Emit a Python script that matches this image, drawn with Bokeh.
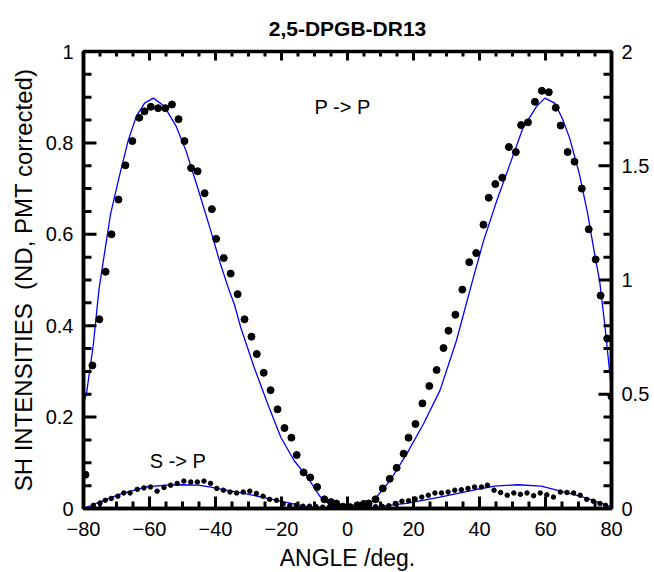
import math
from bokeh.plotting import figure
from bokeh.models import Range1d, LinearAxis, FixedTicker, Label
from bokeh.embed import file_html
from bokeh.resources import INLINE

# ---- data ----
pp_x = [-79.4, -77.3, -75.2, -73.3, -71.5, -69.4, -67.3, -65.2, -63.1, -61.5, -59.6, -57.4,
        -55.2, -53.2, -51.2, -49.4, -47.4, -45.4, -43.3, -41.1, -39.8, -37.5, -35.4, -33.3,
        -31.2, -29.1, -27.5, -25.4, -23.3, -21.2, -19.1, -17.0, -15.4, -13.3, -11.3, -9.2,
        -7.0, -5.0, -3.4, -1.4, 0.8, 3.0, 4.9, 6.4, 8.5, 10.7, 12.8, 14.9, 17.0, 18.5, 20.6,
        22.7, 24.8, 27.0, 29.1, 30.6, 32.7, 34.8, 36.9, 39.0, 41.2, 42.8, 44.8, 46.9, 48.9,
        51.0, 52.6, 54.7, 56.8, 58.9, 61.0, 63.1, 64.6, 66.7, 68.8, 71.0, 73.1, 75.2, 76.7,
        78.7, 80.0]
pp_y = [0.074, 0.313, 0.414, 0.518, 0.600, 0.676, 0.751, 0.804, 0.855, 0.869, 0.879, 0.876,
        0.876, 0.884, 0.852, 0.804, 0.745, 0.738, 0.690, 0.655, 0.590, 0.548, 0.514, 0.469,
        0.414, 0.376, 0.338, 0.297, 0.259, 0.217, 0.176, 0.155, 0.117, 0.079, 0.068, 0.047,
        0.020, 0.014, 0.011, 0.004, 0.003, 0.007, 0.010, 0.011, 0.020, 0.044, 0.065, 0.089,
        0.120, 0.155, 0.185, 0.230, 0.268, 0.303, 0.351, 0.389, 0.424, 0.479, 0.539, 0.559,
        0.621, 0.680, 0.710, 0.724, 0.791, 0.780, 0.839, 0.845, 0.890, 0.914, 0.911, 0.877,
        0.838, 0.780, 0.759, 0.700, 0.611, 0.545, 0.466, 0.372, 0.245]

ppfit_x = [-80, -79.1, -77, -75.3, -73.5, -71.8, -69, -66.5, -64, -61.5, -58.8, -55.5, -51.9,
           -48.9, -45.4, -41.4, -38.5, -36, -34.3, -32.3, -28.3, -24.2, -20.2, -16.2, -12.2,
           -8.2, -4.1, 0, 4, 8, 13, 18, 23, 28, 33, 37.6, 41.2, 45.2, 49.2, 53.2, 57.3, 59.8,
           62.8, 65, 67.3, 70.3, 72.8, 74.9, 76.4, 78, 79.4, 80]
ppfit_y = [0.23, 0.251, 0.36, 0.48, 0.565, 0.644, 0.731, 0.804, 0.858, 0.887, 0.898, 0.880,
           0.836, 0.782, 0.702, 0.607, 0.535, 0.48, 0.447, 0.395, 0.309, 0.229, 0.156, 0.105,
           0.069, 0.025, 0.003, 0.0, 0.004, 0.018, 0.062, 0.12, 0.185, 0.258, 0.367, 0.491,
           0.585, 0.673, 0.753, 0.833, 0.880, 0.898, 0.887, 0.855, 0.811, 0.731, 0.644, 0.556,
           0.498, 0.40, 0.302, 0.258]

sp_x = [-77.0, -75.0, -73.4, -71.6, -69.6, -67.8, -65.9, -63.7, -61.7, -59.7, -57.7, -55.6,
        -53.6, -51.6, -49.6, -47.5, -45.5, -43.5, -41.5, -39.6, -37.6, -35.6, -33.6, -31.6,
        -29.6, -27.6, -25.6, -23.6, -21.5, -19.5, -17.5, -15.5, -13.5, -11.5, -9.5, -7.5,
        -5.5, -3.5, -1.5, 0.5, 2.5, 4.5, 6.5, 8.5, 10.5, 12.5, 14.5, 16.5, 18.5, 20.5, 22.5,
        24.5, 26.5, 28.5, 30.5, 32.5, 34.5, 36.5, 38.5, 40.6, 42.4, 44.4, 46.4, 48.4, 50.4,
        52.4, 54.4, 56.4, 58.4, 60.4, 62.4, 64.5, 66.5, 68.5, 70.5, 72.5, 74.5, 76.5, 78.2]
sp_y = [0.007, 0.012, 0.018, 0.022, 0.027, 0.034, 0.034, 0.042, 0.045, 0.047, 0.038, 0.046,
        0.051, 0.055, 0.060, 0.058, 0.058, 0.060, 0.055, 0.044, 0.040, 0.036, 0.034, 0.036,
        0.038, 0.033, 0.027, 0.020, 0.018, 0.010, 0.006, 0.007, 0.005, 0.005, 0.004, 0.003,
        0.003, 0.002, 0.002, 0.002, 0.002, 0.003, 0.003, 0.004, 0.005, 0.006, 0.011, 0.016,
        0.017, 0.021, 0.025, 0.029, 0.034, 0.034, 0.036, 0.040, 0.041, 0.044, 0.047, 0.047,
        0.051, 0.040, 0.035, 0.029, 0.034, 0.031, 0.034, 0.028, 0.034, 0.030, 0.025, 0.036,
        0.035, 0.034, 0.029, 0.020, 0.016, 0.011, 0.007]

spfit_x = [-80, -75.2, -68.3, -61.2, -55, -50.2, -45.2, -41.4, -39.7, -31.4, -21.3, -13.2,
           -9, -5, 0, 3, 7.8, 17.9, 28, 38.6, 44.6, 51.6, 58.7, 66.7, 72.7, 79.8, 80]
spfit_y = [0.0, 0.014, 0.033, 0.047, 0.051, 0.052, 0.051, 0.047, 0.044, 0.033, 0.018, 0.005,
           0.001, 0.0, 0.0, 0.0, 0.003, 0.011, 0.025, 0.041, 0.049, 0.052, 0.049, 0.034,
           0.022, 0.004, 0.003]

X_MIN, X_MAX = -80, 80
YL_MIN, YL_MAX = 0, 1
YR_MIN, YR_MAX = 0, 2
x_major = [-80, -60, -40, -20, 0, 20, 40, 60, 80]
x_minor = [v for v in range(-80, 81, 5) if v not in x_major]
yl_major = [0, 0.2, 0.4, 0.6, 0.8, 1]
yl_labels = {0: "0", 0.2: "0.2", 0.4: "0.4", 0.6: "0.6", 0.8: "0.8", 1: "1"}
yl_minor = [round(0.05 * i, 2) for i in range(21) if round(0.05 * i, 2) not in yl_major]
yr_major = [0, 0.5, 1, 1.5, 2]
yr_labels = {0: "0", 0.5: "0.5", 1: "1", 1.5: "1.5", 2: "2"}
yr_minor = [round(0.1 * i, 1) for i in range(21) if round(0.1 * i, 1) not in yr_major]

FONT = "Liberation Sans"

p = figure(frame_width=528, frame_height=457,
           x_range=Range1d(X_MIN, X_MAX), y_range=Range1d(YL_MIN, YL_MAX),
           x_axis_location=None, y_axis_location=None,
           output_backend="svg", toolbar_location=None,
           min_border_left=83, min_border_top=51, min_border_right=30, min_border_bottom=50)
p.extra_y_ranges = {"right": Range1d(YR_MIN, YR_MAX)}
p.grid.visible = False
p.outline_line_color = "black"
p.outline_line_width = 3.5
p.background_fill_color = "white"
p.border_fill_color = "white"

p.title.text = "2,5-DPGB-DR13"
p.title.align = "center"
p.title.text_font = FONT
p.title.text_font_size = "21px"
p.title.text_font_style = "bold"
p.title.text_color = "black"
p.title.standoff = 23


def style(ax):
    ax.axis_line_width = 3.5
    ax.axis_line_color = "black"
    ax.major_tick_in = 0
    ax.major_tick_out = 0
    ax.minor_tick_in = 0
    ax.minor_tick_out = 0
    ax.major_label_text_font = FONT
    ax.major_label_text_font_size = "20px"
    ax.major_label_text_color = "black"
    ax.axis_label_text_font = FONT
    ax.axis_label_text_font_size = "23px"
    ax.axis_label_text_font_style = "normal"
    ax.axis_label_text_color = "black"


xb = LinearAxis(ticker=FixedTicker(ticks=x_major), axis_label="ANGLE /deg.")
style(xb)
xb.major_label_standoff = 13
xb.axis_label_standoff = 6
p.add_layout(xb, "below")

yl = LinearAxis(ticker=FixedTicker(ticks=yl_major),
                axis_label="SH INTENSITIES \u00a0(ND, PMT corrected)")
style(yl)
yl.axis_label_text_font_size = "24px"
yl.major_label_overrides = yl_labels
yl.major_label_standoff = 10
yl.axis_label_standoff = 6
p.add_layout(yl, "left")

yr = LinearAxis(y_range_name="right", ticker=FixedTicker(ticks=yr_major))
style(yr)
yr.major_label_overrides = yr_labels
yr.major_label_standoff = 10
p.add_layout(yr, "right")

# fits and data
p.line(ppfit_x, ppfit_y, line_color="#0000ff", line_width=1.3)
p.line(spfit_x, spfit_y, line_color="#0000ff", line_width=1.3)
p.scatter(pp_x, pp_y, size=7, color="black")
p.scatter(sp_x, sp_y, size=4.5, color="black")

# inward tick marks (dash markers centred on the frame edges; the outer half is clipped)
TW = 3
VERT = math.pi / 2
for yv, maj, mino in [(YL_MIN, 24, 14), (YL_MAX, 18, 10)]:
    p.scatter(x_major, [yv] * len(x_major), marker="dash", size=maj, angle=VERT,
              line_color="black", line_width=TW)
    p.scatter(x_minor, [yv] * len(x_minor), marker="dash", size=mino, angle=VERT,
              line_color="black", line_width=TW)
p.scatter([X_MIN] * len(yl_major), yl_major, marker="dash", size=26,
          line_color="black", line_width=TW)
p.scatter([X_MIN] * len(yl_minor), yl_minor, marker="dash", size=16,
          line_color="black", line_width=TW)
p.scatter([X_MAX] * len(yr_major), yr_major, marker="dash", size=26, y_range_name="right",
          line_color="black", line_width=TW)
p.scatter([X_MAX] * len(yr_minor), yr_minor, marker="dash", size=16, y_range_name="right",
          line_color="black", line_width=TW)

p.add_layout(Label(x=-1.5, y=0.879, text="P -> P", text_align="center", text_baseline="middle",
                   text_font=FONT, text_font_size="20px", text_color="black"))
p.add_layout(Label(x=-51.4, y=0.105, text="S -> P", text_align="center", text_baseline="middle",
                   text_font=FONT, text_font_size="20px", text_color="black"))

open("out.html", "w").write(file_html(p, INLINE))
